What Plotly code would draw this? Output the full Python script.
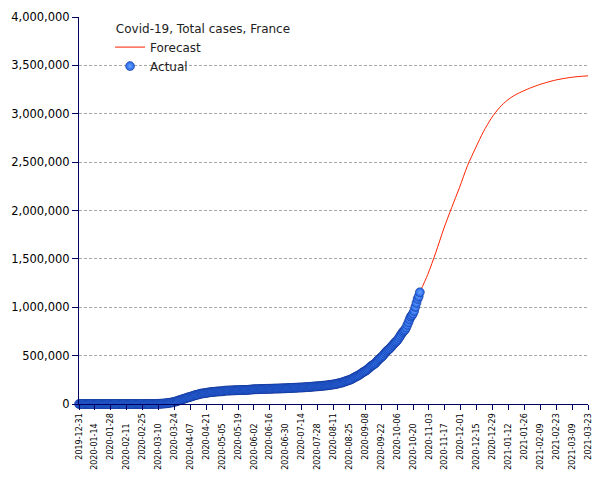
import plotly.graph_objects as go
import pandas as pd

# ---- data ----
actual_start = "2019-12-31"  # daily values from this date
actual_values = (
    [0] * 25
    + [3, 3, 3, 4, 5, 5, 5]
    + [6] * 7 + [11] * 7 + [12] * 11 + [18, 38, 57, 100]
    + [130, 191, 212, 285, 423, 613, 949, 1126, 1412, 1784, 2281, 2876, 3661, 4499, 5423,
       6633, 7730, 9134, 10995, 12612, 14459, 16689, 19856, 22302, 25233, 29155, 32964,
       37575, 40174, 44550, 48900]
    + [52128, 56989, 59105, 64338, 68605, 70478, 74390, 78167, 82048, 86334, 90676, 93790,
       95403, 98076, 103573, 106206, 108847, 109252, 111821, 112606, 114657, 117324,
       119151, 120804, 122577, 124114, 124575, 125770, 126835, 128442]
    + [129581, 130185, 130979, 131287, 131863, 132967, 137150, 137779, 138421, 138854,
       139063, 139519, 140227, 140734, 141356, 141919, 142291, 142411, 142903, 143427,
       143845, 144163, 144556, 144921, 145279, 145555, 145746, 146500, 147800, 149000, 149700]
    + [151300, 151800, 152400, 153100, 153500, 153900, 154200, 154500, 154900, 155300,
       155600, 156100, 156300, 156600, 156800, 157200, 157700, 158200, 158600, 159000,
       159300, 159500, 159800, 160200, 160800, 161300, 161800, 162300, 162600, 162900]
    + [163600, 164300, 164800, 165700, 166000, 166400, 166800, 167800, 168300, 168800,
       169500, 170300, 170600, 170900, 171500, 172300, 173300, 174300, 175100, 175700,
       176200, 177300, 178300, 179700, 180500, 181600, 182600, 183100, 183900, 185200, 186600]
    + [187900, 189200, 189700, 190600, 192300, 194100, 196000, 197300, 199300, 200500,
       202200, 204500, 206700, 209100, 212100, 215500, 218500, 220100, 223800, 228000,
       232500, 236900, 240800, 244900, 247700, 252400, 257800, 264900, 272200, 277900, 283500]
    + [290000, 296000, 303000, 311000, 320000, 328000, 335000, 341000, 349000, 358000,
       368000, 380000, 390000, 398000, 405000, 414000, 424000, 437000, 450000, 462000,
       473000, 482000, 493000, 506000, 521000, 535000, 548000, 558000, 568000, 580000]
    + [593000, 606000, 620000, 633000, 643000, 655000, 672000, 690000, 708000, 727000,
       744000, 756000, 768000, 790000, 818000, 846000, 876000, 902000, 916000, 935000,
       962000, 1003000, 1045000, 1086000, 1112000, 1155000]
)
actual_dates = pd.date_range(actual_start, periods=len(actual_values), freq="D")

forecast_dates = ["2020-10-26", "2020-11-02", "2020-11-09", "2020-11-16", "2020-11-23",
                  "2020-11-30", "2020-12-07", "2020-12-14", "2020-12-21", "2020-12-28",
                  "2021-01-04", "2021-01-11", "2021-01-18", "2021-01-25", "2021-02-01",
                  "2021-02-08", "2021-02-15", "2021-02-22", "2021-03-01", "2021-03-08",
                  "2021-03-15", "2021-03-23"]
forecast_values = [1155000, 1340000, 1565000, 1810000, 2030000, 2240000, 2465000, 2645000,
                   2815000, 2955000, 3062000, 3140000, 3195000, 3235000, 3270000, 3300000,
                   3325000, 3347000, 3363000, 3376000, 3385000, 3392000]

tick_dates = ["2019-12-31", "2020-01-14", "2020-01-28", "2020-02-11", "2020-02-25",
              "2020-03-10", "2020-03-24", "2020-04-07", "2020-04-21", "2020-05-05",
              "2020-05-19", "2020-06-02", "2020-06-16", "2020-06-30", "2020-07-14",
              "2020-07-28", "2020-08-11", "2020-08-25", "2020-09-08", "2020-09-22",
              "2020-10-06", "2020-10-20", "2020-11-03", "2020-11-17", "2020-12-01",
              "2020-12-15", "2020-12-29", "2021-01-12", "2021-01-26", "2021-02-09",
              "2021-02-23", "2021-03-09", "2021-03-23"]
y_ticks = [0, 500000, 1000000, 1500000, 2000000, 2500000, 3000000, 3500000, 4000000]

title_text = "\u00a0Covid-19, Total cases, France"

NAVY = "#000060"
FONT = "DejaVu Sans"

# staggered labels: odd ones padded so they sit lower
tick_text = [d if i % 2 == 0 else d + "\u00a0" * 4 for i, d in enumerate(tick_dates)]

fig = go.Figure()
fig.add_trace(go.Scatter(
    x=forecast_dates, y=forecast_values, mode="lines", name="Forecast",
    line=dict(color="#ff2200", width=1, shape="spline", smoothing=0.8),
))
fig.add_trace(go.Scatter(
    x=actual_dates, y=actual_values, mode="markers", name="Actual", cliponaxis=False,
    marker=dict(size=9, color="#2263e6",
                gradient=dict(type="radial", color="#6aa5ff"),
                line=dict(color="#0f2a85", width=0.5)),
))

# the page body has an 8px margin, so the figure is sized/offset to compensate
fig.update_layout(
    width=589, height=464,
    margin=dict(l=71, r=9, t=9, b=68, autoexpand=False),
    paper_bgcolor="white", plot_bgcolor="white",
    font=dict(family=FONT, size=12, color="black"),
    showlegend=True,
    legend=dict(
        title=dict(text=title_text, font=dict(family=FONT, size=12, color="#222")),
        x=0.061, y=1.0, xanchor="left", yanchor="top",
        bgcolor="rgba(0,0,0,0)", borderwidth=0,
        font=dict(family=FONT, size=12, color="#222"),
    ),
    xaxis=dict(
        type="date", range=["2019-12-31", "2021-03-23"], automargin=False,
        tickmode="array", tickvals=tick_dates, ticktext=tick_text,
        tickangle=-90, tickfont=dict(family=FONT, size=8, color="black"),
        showgrid=False, showline=True, linecolor=NAVY, linewidth=1,
        ticks="outside", ticklen=5, tickcolor=NAVY, tickwidth=1,
        zeroline=False,
    ),
    yaxis=dict(
        range=[0, 4000000], tickmode="array", tickvals=y_ticks, automargin=False,
        tickformat=",d", tickfont=dict(family=FONT, size=11.5, color="black"),
        showgrid=True, gridcolor="#a8a8a8", griddash="3px,2px", gridwidth=1,
        showline=True, linecolor=NAVY, linewidth=1,
        ticks="outside", ticklen=6, tickcolor=NAVY, tickwidth=1,
        zeroline=False,
    ),
)

fig.write_html("out.html")
